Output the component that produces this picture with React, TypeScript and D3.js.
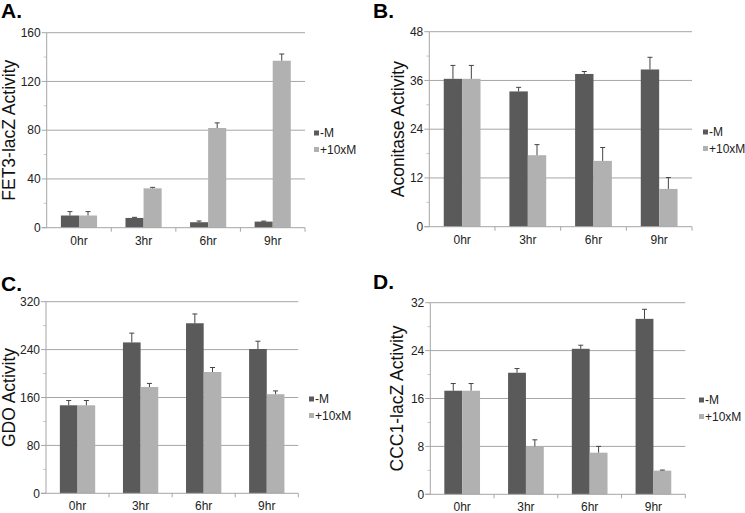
import React from "react";
import * as d3 from "d3";

const categories = ["0hr", "3hr", "6hr", "9hr"];
const seriesNames = ["-M", "+10xM"];

const fetMinus = [10, 8, 4.5, 5];
const fetMinusErr = [3.2, 0.5, 1, 0.4];
const fetPlus = [10, 32.3, 81.8, 137];
const fetPlusErr = [3.2, 0.8, 4.2, 5.5];

const acoMinus = [36.4, 33.3, 37.6, 38.7];
const acoMinusErr = [3.3, 1, 0.6, 3];
const acoPlus = [36.4, 17.6, 16.2, 9.3];
const acoPlusErr = [3.3, 2.6, 3.3, 2.8];

const gdoMinus = [147, 252, 284, 241];
const gdoMinusErr = [8, 15.5, 15.5, 13];
const gdoPlus = [147, 177.5, 202.6, 165.5];
const gdoPlusErr = [8, 6, 7.5, 5.5];

const cccMinus = [17.3, 20.3, 24.3, 29.3];
const cccMinusErr = [1.2, 0.7, 0.6, 1.6];
const cccPlus = [17.3, 8, 6.95, 3.95];
const cccPlusErr = [1.2, 1.1, 1.05, 0.1];

const yTicksA = [0, 40, 80, 120, 160];
const yTicksB = [0, 12, 24, 36, 48];
const yTicksC = [0, 80, 160, 240, 320];
const yTicksD = [0, 8, 16, 24, 32];

const DARK = "#5a5a5a";
const LIGHT = "#b1b1b1";
const GRID = "#a6a6a6";
const FONT = "Liberation Sans, Arial, sans-serif";

type PanelProps = {
  letter: string;
  letterX: number;
  letterY: number;
  left: number;
  right: number;
  top: number;
  bottom: number;
  yMax: number;
  ticks: number[];
  minus: number[];
  minusErr: number[];
  plus: number[];
  plusErr: number[];
  yLabel: string;
  yLabelX: number;
  legendX: number;
  legendY: number;
};

function Panel(p: PanelProps) {
  const x = d3.scaleBand<string>().domain(categories).range([p.left, p.right]).padding(0);
  const y = d3.scaleLinear().domain([0, p.yMax]).range([p.bottom, p.top]);
  const step = x.step();
  const bw = step * 0.28;
  const series = [
    { vals: p.minus, errs: p.minusErr, color: DARK, off: -bw },
    { vals: p.plus, errs: p.plusErr, color: LIGHT, off: 0 },
  ];
  const midY = (p.top + p.bottom) / 2;
  const minor = p.ticks.slice(1).map((t, i) => (t + p.ticks[i]) / 2);
  return (
    <g fontFamily={FONT}>
      <text x={p.letterX} y={p.letterY} fontSize={21} fontWeight="bold" fill="#000">
        {p.letter}
      </text>
      {p.ticks.map((t) => (
        <g key={t}>
          {t > 0 && (
            <line x1={p.left} x2={p.right} y1={y(t)} y2={y(t)} stroke={GRID} strokeWidth={1} />
          )}
          <line x1={p.left - 5} x2={p.left} y1={y(t)} y2={y(t)} stroke={GRID} strokeWidth={1} />
          <text x={p.left - 6} y={y(t)} dy="0.35em" textAnchor="end" fontSize={12} fill="#222">
            {t}
          </text>
        </g>
      ))}
      {minor.map((t) => (
        <line key={"m" + t} x1={p.left - 3} x2={p.left} y1={y(t)} y2={y(t)} stroke="#c8c8c8" strokeWidth={1} />
      ))}
      {categories.map((c, i) => {
        const cx = (x(c) as number) + step / 2;
        return (
          <g key={c}>
            {series.map((s, j) => {
              const v = s.vals[i];
              const e = s.errs[i];
              const bx = cx + s.off;
              const ex = bx + bw / 2;
              return (
                <g key={j}>
                  <rect x={bx} y={y(v)} width={bw} height={p.bottom - y(v)} fill={s.color} />
                  <line x1={ex} x2={ex} y1={y(v)} y2={y(v + e)} stroke="#444" strokeWidth={1} />
                  <line x1={ex - 2.5} x2={ex + 2.5} y1={y(v + e)} y2={y(v + e)} stroke="#444" strokeWidth={1} />
                </g>
              );
            })}
            <text x={cx} y={p.bottom + 17} textAnchor="middle" fontSize={12} fill="#222">
              {c}
            </text>
          </g>
        );
      })}
      <line x1={p.left} x2={p.left} y1={p.top} y2={p.bottom} stroke={GRID} strokeWidth={1} />
      <line x1={p.left - 5} x2={p.right} y1={p.bottom} y2={p.bottom} stroke={GRID} strokeWidth={1} />
      {d3.range(1, categories.length + 1).map((k) => (
        <line
          key={k}
          x1={p.left + k * step}
          x2={p.left + k * step}
          y1={p.bottom}
          y2={p.bottom + 4}
          stroke={GRID}
          strokeWidth={1}
        />
      ))}
      <text
        transform={`translate(${p.yLabelX},${midY}) rotate(-90)`}
        textAnchor="middle"
        dy="0.35em"
        fontSize={17.5}
        fill="#111"
      >
        {p.yLabel}
      </text>
      {seriesNames.map((n, i) => (
        <g key={n}>
          <rect x={p.legendX} y={p.legendY + i * 16.5 - 2.5} width={5} height={5} fill={i === 0 ? DARK : LIGHT} />
          <text x={p.legendX + 6} y={p.legendY + i * 16.5} dy="0.35em" fontSize={12} fill="#222">
            {n}
          </text>
        </g>
      ))}
    </g>
  );
}

export default function App() {
  return (
    <svg width={745} height={513} style={{ position: "absolute", left: 0, top: 0, background: "#fff" }}>
      <rect width={745} height={513} fill="#fff" />
      <Panel
        letter="A." letterX={1} letterY={18}
        left={46.7} right={305} top={32.7} bottom={227.7}
        yMax={160} ticks={yTicksA}
        minus={fetMinus} minusErr={fetMinusErr} plus={fetPlus} plusErr={fetPlusErr}
        yLabel="FET3-lacZ Activity" yLabelX={9} legendX={314} legendY={133}
      />
      <Panel
        letter="B." letterX={373} letterY={18}
        left={429.3} right={692} top={31.7} bottom={226.7}
        yMax={48} ticks={yTicksB}
        minus={acoMinus} minusErr={acoMinusErr} plus={acoPlus} plusErr={acoPlusErr}
        yLabel="Aconitase Activity" yLabelX={398} legendX={703} legendY={132}
      />
      <Panel
        letter="C." letterX={1} letterY={291}
        left={46} right={298.3} top={301.7} bottom={493.3}
        yMax={320} ticks={yTicksC}
        minus={gdoMinus} minusErr={gdoMinusErr} plus={gdoPlus} plusErr={gdoPlusErr}
        yLabel="GDO Activity" yLabelX={9} legendX={309} legendY={399}
      />
      <Panel
        letter="D." letterX={373} letterY={289}
        left={430.3} right={685.3} top={302.7} bottom={494.3}
        yMax={32} ticks={yTicksD}
        minus={cccMinus} minusErr={cccMinusErr} plus={cccPlus} plusErr={cccPlusErr}
        yLabel="CCC1-lacZ Activity" yLabelX={397} legendX={699} legendY={400}
      />
    </svg>
  );
}
